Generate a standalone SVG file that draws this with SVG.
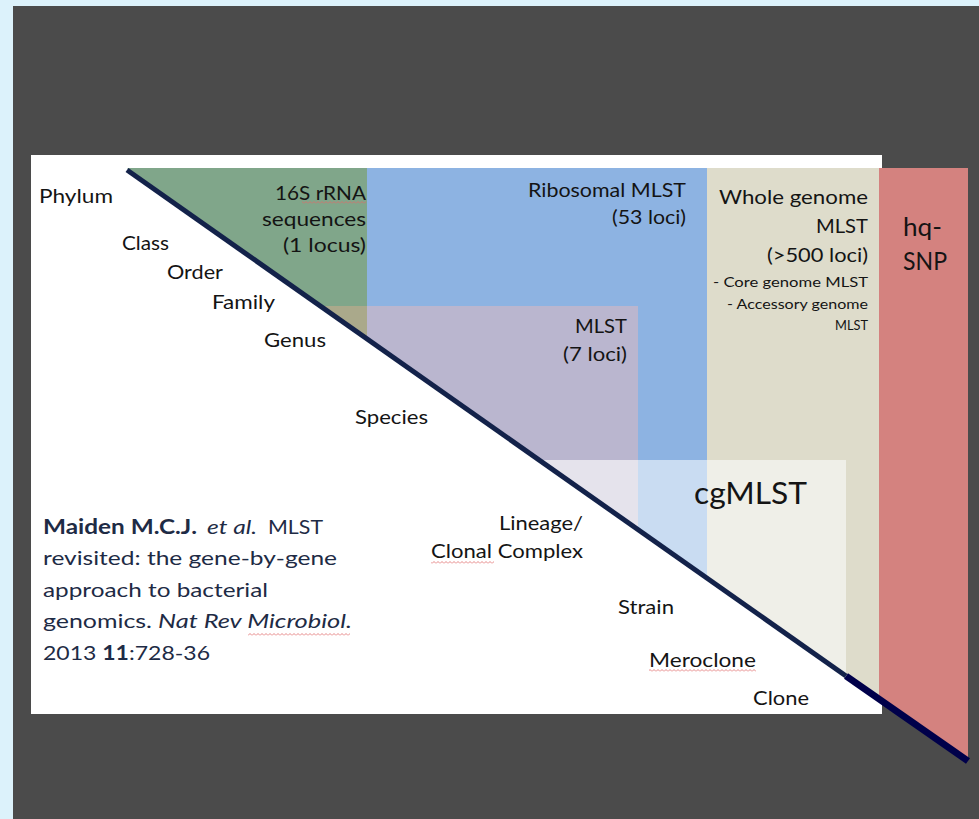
<svg xmlns="http://www.w3.org/2000/svg" width="979" height="819" viewBox="0 0 979 819">
<style>
text{font-family:Lato,"Open Sans","Liberation Sans",sans-serif;fill:#141414}
.tx{font-size:19px}
.sm{font-size:14px}
.cit{font-size:20px;fill:#1e2b45}
.end{text-anchor:end}
</style>
<defs>
<clipPath id="tri"><polygon points="127,168 968,168 968,761"/></clipPath>
<pattern id="sq" width="4" height="3" patternUnits="userSpaceOnUse"><path d="M0,2.5 L2,0.5 L4,2.5" fill="none" stroke="#e06a6a" stroke-width="0.8"/></pattern>
</defs>
<rect width="979" height="819" fill="#dcf2fb"/>
<rect x="13" y="6" width="966" height="813" fill="#4b4b4b"/>
<rect x="31" y="155" width="851" height="559" fill="#ffffff"/>
<g clip-path="url(#tri)">
<g id="region-16s"><rect x="120" y="168" width="247" height="138" fill="#80a68a"/><rect x="120" y="306" width="247" height="40" fill="#aaa98b"/></g>
<g id="region-rmlst"><rect x="367" y="168" width="340" height="292" fill="#8db3e2"/></g>
<g id="region-mlst"><rect x="367" y="306" width="271" height="154" fill="#bab6cf"/></g>
<g id="region-wgmlst"><rect x="707" y="168" width="172" height="560" fill="#dedccb"/></g>
<g id="region-cgmlst"><rect x="367" y="460" width="271" height="260" fill="#e5e3ec"/><rect x="638" y="460" width="69" height="260" fill="#c9dcf2"/><rect x="707" y="460" width="139" height="260" fill="#efefe8"/></g>
<g id="region-hqsnp"><rect x="879" y="168" width="89" height="600" fill="#d4827f"/></g>
</g>
<g id="connectors">
<line x1="127" y1="170" x2="846" y2="676" stroke="#13224a" stroke-width="5"/>
<line x1="846" y1="676" x2="968" y2="761" stroke="#00004a" stroke-width="7"/>
</g>
<g id="taxonomy">
<text class="tx" x="39" y="203" textLength="74" lengthAdjust="spacingAndGlyphs">Phylum</text>
<text class="tx" x="122" y="250" textLength="47" lengthAdjust="spacingAndGlyphs">Class</text>
<text class="tx" x="167" y="279" textLength="56" lengthAdjust="spacingAndGlyphs">Order</text>
<text class="tx" x="212" y="309" textLength="63" lengthAdjust="spacingAndGlyphs">Family</text>
<text class="tx" x="264" y="347" textLength="62" lengthAdjust="spacingAndGlyphs">Genus</text>
<text class="tx" x="355" y="424" textLength="73" lengthAdjust="spacingAndGlyphs">Species</text>
<text class="tx" x="499" y="530" textLength="84" lengthAdjust="spacingAndGlyphs">Lineage/</text>
<text class="tx" x="431" y="558" textLength="152" lengthAdjust="spacingAndGlyphs">Clonal Complex</text>
<text class="tx" x="618" y="614" textLength="56" lengthAdjust="spacingAndGlyphs">Strain</text>
<text class="tx" x="649" y="667" textLength="107" lengthAdjust="spacingAndGlyphs">Meroclone</text>
<text class="tx" x="753" y="705" textLength="56" lengthAdjust="spacingAndGlyphs">Clone</text>
</g>
<g id="label-16s">
<text class="tx end" x="366" y="200" textLength="91" lengthAdjust="spacingAndGlyphs">16S rRNA</text>
<text class="tx end" x="366" y="226" textLength="104" lengthAdjust="spacingAndGlyphs">sequences</text>
<text class="tx end" x="366" y="252" textLength="83" lengthAdjust="spacingAndGlyphs">(1 locus)</text>
</g>
<g id="label-rmlst">
<text class="tx end" x="686" y="197" textLength="158" lengthAdjust="spacingAndGlyphs">Ribosomal MLST</text>
<text class="tx end" x="686" y="224" textLength="74" lengthAdjust="spacingAndGlyphs">(53 loci)</text>
</g>
<g id="label-wgmlst">
<text class="tx end" x="868" y="204" textLength="149" lengthAdjust="spacingAndGlyphs">Whole genome</text>
<text class="tx end" x="868" y="233" textLength="52" lengthAdjust="spacingAndGlyphs">MLST</text>
<text class="tx end" x="868" y="262" textLength="101" lengthAdjust="spacingAndGlyphs">(&gt;500 loci)</text>
<text class="sm end" x="868" y="287" textLength="155" lengthAdjust="spacingAndGlyphs">- Core genome MLST</text>
<text class="sm end" x="868" y="309" textLength="141" lengthAdjust="spacingAndGlyphs">- Accessory genome</text>
<text class="sm end" x="868" y="330" textLength="33" lengthAdjust="spacingAndGlyphs">MLST</text>
</g>
<g id="label-mlst">
<text class="tx end" x="627" y="333" textLength="52" lengthAdjust="spacingAndGlyphs">MLST</text>
<text class="tx end" x="627" y="361" textLength="64" lengthAdjust="spacingAndGlyphs">(7 loci)</text>
</g>
<g id="label-hqsnp">
<text x="903" y="236" font-size="25" textLength="39" lengthAdjust="spacingAndGlyphs">hq-</text>
<text x="903" y="270" font-size="25" textLength="44" lengthAdjust="spacingAndGlyphs">SNP</text>
</g>
<g id="label-cgmlst">
<text x="694" y="504" font-size="31" textLength="113" lengthAdjust="spacingAndGlyphs">cgMLST</text>
</g>
<g id="citation">
<text class="cit" y="534"><tspan x="43" font-weight="bold" textLength="154" lengthAdjust="spacingAndGlyphs">Maiden M.C.J.</tspan><tspan x="207" font-style="italic" textLength="50" lengthAdjust="spacingAndGlyphs">et al.</tspan><tspan x="268" textLength="55" lengthAdjust="spacingAndGlyphs">MLST</tspan></text>
<text class="cit" x="43" y="565" textLength="294" lengthAdjust="spacingAndGlyphs">revisited: the gene-by-gene</text>
<text class="cit" x="43" y="597" textLength="225" lengthAdjust="spacingAndGlyphs">approach to bacterial</text>
<text class="cit" y="628"><tspan x="43" textLength="109" lengthAdjust="spacingAndGlyphs">genomics.</tspan><tspan x="158" font-style="italic" textLength="194" lengthAdjust="spacingAndGlyphs">Nat Rev Microbiol.</tspan></text>
<text class="cit" x="43" y="660" textLength="167" lengthAdjust="spacingAndGlyphs">2013 <tspan font-weight="bold">11</tspan>:728-36</text>
</g>
<g id="spellcheck">
<rect x="302" y="201" width="64" height="3" fill="url(#sq)"/>
<rect x="431" y="561" width="63" height="3" fill="url(#sq)"/>
<rect x="649" y="669" width="107" height="3" fill="url(#sq)"/>
<rect x="248" y="633" width="102" height="3" fill="url(#sq)"/>
</g>
</svg>
